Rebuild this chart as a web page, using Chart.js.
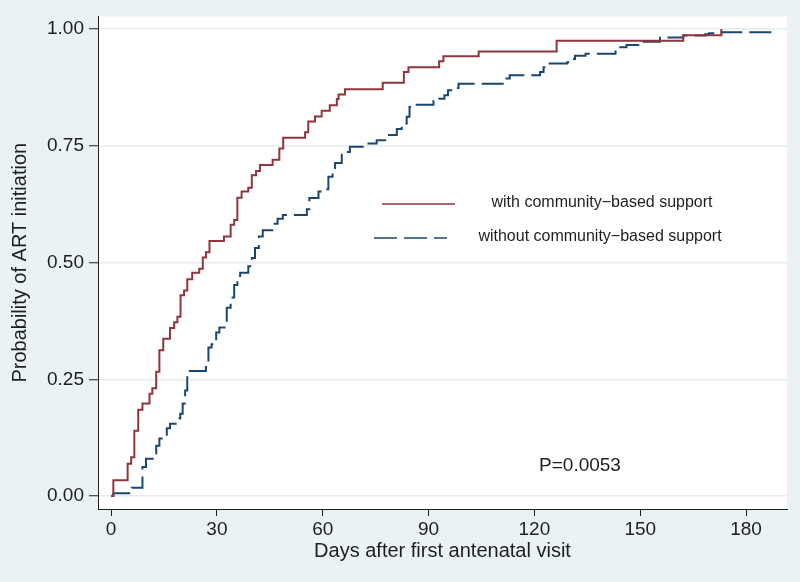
<!DOCTYPE html>
<html>
<head>
<meta charset="utf-8">
<script src="https://cdn.jsdelivr.net/npm/chart.js@4.4.1/dist/chart.umd.min.js"></script>
<style>
  html, body { margin: 0; padding: 0; background: #eaf2f3; }
  #wrap { width: 800px; height: 582px; position: relative; }
</style>
</head>
<body>
<div id="wrap"><canvas id="kmChart" width="800" height="582"></canvas></div>
<script>
// tick labels
var xTicks = [0, 30, 60, 90, 120, 150, 180];
var yTicks = [0, 0.25, 0.5, 0.75, 1];

// Kaplan-Meier steps, with community-based support
var withDays = [0, 0.65, 4.7, 5.7, 6.6, 7.7, 8.9, 10.9, 11.7, 12.8, 13.7, 14.8, 16.7, 17.9, 18.8, 19.7, 20.7, 21.6, 23.0, 25.0, 26.0, 26.9, 27.9, 32.0, 33.9, 34.9, 35.8, 37.0, 38.9, 39.9, 41.1, 42.2, 45.8, 47.7, 48.8, 55.0, 55.9, 57.8, 59.7, 62.0, 64.0, 64.5, 66.3, 77.0, 83.0, 84.3, 93.0, 94.2, 104.2, 126.3, 162.2, 173.0];
var withProb = [0, 0.034, 0.069, 0.083, 0.140, 0.185, 0.198, 0.219, 0.231, 0.266, 0.312, 0.337, 0.360, 0.372, 0.384, 0.430, 0.440, 0.464, 0.478, 0.487, 0.511, 0.522, 0.546, 0.556, 0.581, 0.591, 0.639, 0.652, 0.660, 0.687, 0.696, 0.709, 0.720, 0.744, 0.767, 0.779, 0.802, 0.813, 0.825, 0.837, 0.850, 0.860, 0.871, 0.885, 0.908, 0.918, 0.931, 0.942, 0.952, 0.975, 0.987, 1.0];

// without community-based support
var withoutDays = [0, 0.65, 5.9, 8.9, 9.9, 11.8, 12.8, 13.7, 15.8, 16.7, 18.6, 19.6, 20.3, 21.0, 21.6, 26.9, 27.6, 28.5, 29.8, 30.7, 32.8, 33.9, 34.9, 35.8, 36.6, 38.9, 39.9, 40.8, 41.9, 43.0, 46.0, 47.2, 48.7, 55.5, 56.2, 58.8, 59.7, 61.6, 62.8, 63.5, 65.4, 67.7, 72.5, 75.3, 78.1, 81.0, 82.4, 83.8, 84.6, 85.5, 91.4, 93.0, 94.5, 95.5, 97.0, 98.5, 112.1, 113.0, 121.6, 122.6, 123.5, 129.3, 130.0, 131.5, 134.5, 143.0, 146.1, 149.5, 155.6, 162.2, 168.4, 169.5, 173.0, 187.7];
var withoutProb = [0, 0.006, 0.018, 0.062, 0.080, 0.091, 0.108, 0.123, 0.145, 0.155, 0.166, 0.176, 0.198, 0.226, 0.268, 0.279, 0.318, 0.325, 0.350, 0.361, 0.403, 0.425, 0.452, 0.471, 0.478, 0.492, 0.510, 0.531, 0.556, 0.569, 0.583, 0.594, 0.602, 0.614, 0.638, 0.652, 0.657, 0.684, 0.699, 0.713, 0.737, 0.748, 0.755, 0.762, 0.773, 0.786, 0.798, 0.812, 0.833, 0.838, 0.846, 0.851, 0.858, 0.869, 0.874, 0.883, 0.894, 0.901, 0.908, 0.918, 0.926, 0.929, 0.936, 0.943, 0.947, 0.961, 0.966, 0.973, 0.982, 0.986, 0.989, 0.991, 0.993, 0.996];

var seriesNames = ["with community\u2212based support", "without community\u2212based support"];
var pValue = "P=0.0053";

var red = "#90353b";
var navy = "#1a476f";
var font = "'Liberation Sans', Arial, sans-serif";

function toPoints(xs, ys) {
    return xs.map(function (x, i) { return { x: x, y: ys[i] }; });
}

var bgPlugin = {
    id: "bg",
    beforeDraw: function (chart) {
        var c = chart.ctx, a = chart.chartArea;
        c.save();
        c.fillStyle = "#eaf2f3";
        c.fillRect(0, 0, chart.width, chart.height);
        c.fillStyle = "#ffffff";
        c.fillRect(a.left, a.top, a.right - a.left, a.bottom - a.top);
        c.restore();
    }
};

// legend inside the plot and the p-value note
var notePlugin = {
    id: "notes",
    afterDraw: function (chart) {
        var c = chart.ctx;
        c.save();
        c.lineWidth = 1.5;
        c.strokeStyle = red;
        c.beginPath(); c.moveTo(382, 204); c.lineTo(455, 204); c.stroke();
        c.strokeStyle = navy;
        c.setLineDash([23, 7]);
        c.beginPath(); c.moveTo(374, 238); c.lineTo(447, 238); c.stroke();
        c.setLineDash([]);
        c.fillStyle = "#1e1e1e";
        c.font = "16px " + font;
        c.textAlign = "center";
        c.textBaseline = "middle";
        c.fillText(seriesNames[0], 602, 203);
        c.fillText(seriesNames[1], 600, 237);
        c.font = "19px " + font;
        c.fillText(pValue, 580, 466);
        c.restore();
    }
};

document.addEventListener("DOMContentLoaded", function () {
    var ctx = document.getElementById("kmChart").getContext("2d");

    var myChart = new Chart(ctx, {
        type: "line",
        data: {
            datasets: [{
                label: seriesNames[0],
                data: toPoints(withDays, withProb),
                borderColor: red,
                borderWidth: 2,
                stepped: true,
                pointRadius: 0,
                fill: false
            }, {
                label: seriesNames[1],
                data: toPoints(withoutDays, withoutProb),
                borderColor: navy,
                borderWidth: 2,
                borderDash: [22, 7],
                stepped: true,
                pointRadius: 0,
                fill: false
            }]
        },
        options: {
            responsive: false,
            animation: false,
            layout: { padding: { top: 14, right: 13, left: 0, bottom: 0 } },
            plugins: { legend: { display: false }, tooltip: { enabled: false } },
            scales: {
                x: {
                    type: "linear",
                    min: -3.7,
                    max: 191.6,
                    afterBuildTicks: function (s) { s.ticks = xTicks.map(function (v) { return { value: v }; }); },
                    afterFit: function (s) { s.height = 73; },
                    grid: { drawOnChartArea: false, drawTicks: true, tickLength: 7, tickColor: "#1e1e1e", tickWidth: 1 },
                    border: { display: true, color: "#1e1e1e", width: 1 },
                    ticks: { color: "#1e1e1e", font: { family: font, size: 19 }, padding: 2, maxRotation: 0,
                             callback: function (v) { return String(v); } },
                    title: { display: true, text: "Days after first antenatal visit", color: "#1e1e1e",
                             font: { family: font, size: 20 }, padding: { top: 0, bottom: 19 } }
                },
                y: {
                    min: -0.0277,
                    max: 1.0271,
                    afterBuildTicks: function (s) { s.ticks = yTicks.map(function (v) { return { value: v }; }); },
                    afterFit: function (s) { s.width = 98; },
                    grid: { color: "#e6ecee", lineWidth: 1.5, drawTicks: true, tickLength: 9, tickColor: "#1e1e1e", tickWidth: 1 },
                    border: { display: true, color: "#1e1e1e", width: 1 },
                    ticks: { color: "#1e1e1e", font: { family: font, size: 19 }, padding: 5,
                             callback: function (v) { return v.toFixed(2); } },
                    title: { display: true, text: "Probability of ART initiation", color: "#1e1e1e",
                             font: { family: font, size: 20 }, padding: { top: 8, bottom: 0 } }
                }
            }
        },
        plugins: [bgPlugin, notePlugin]
    });
});
</script>
</body>
</html>
